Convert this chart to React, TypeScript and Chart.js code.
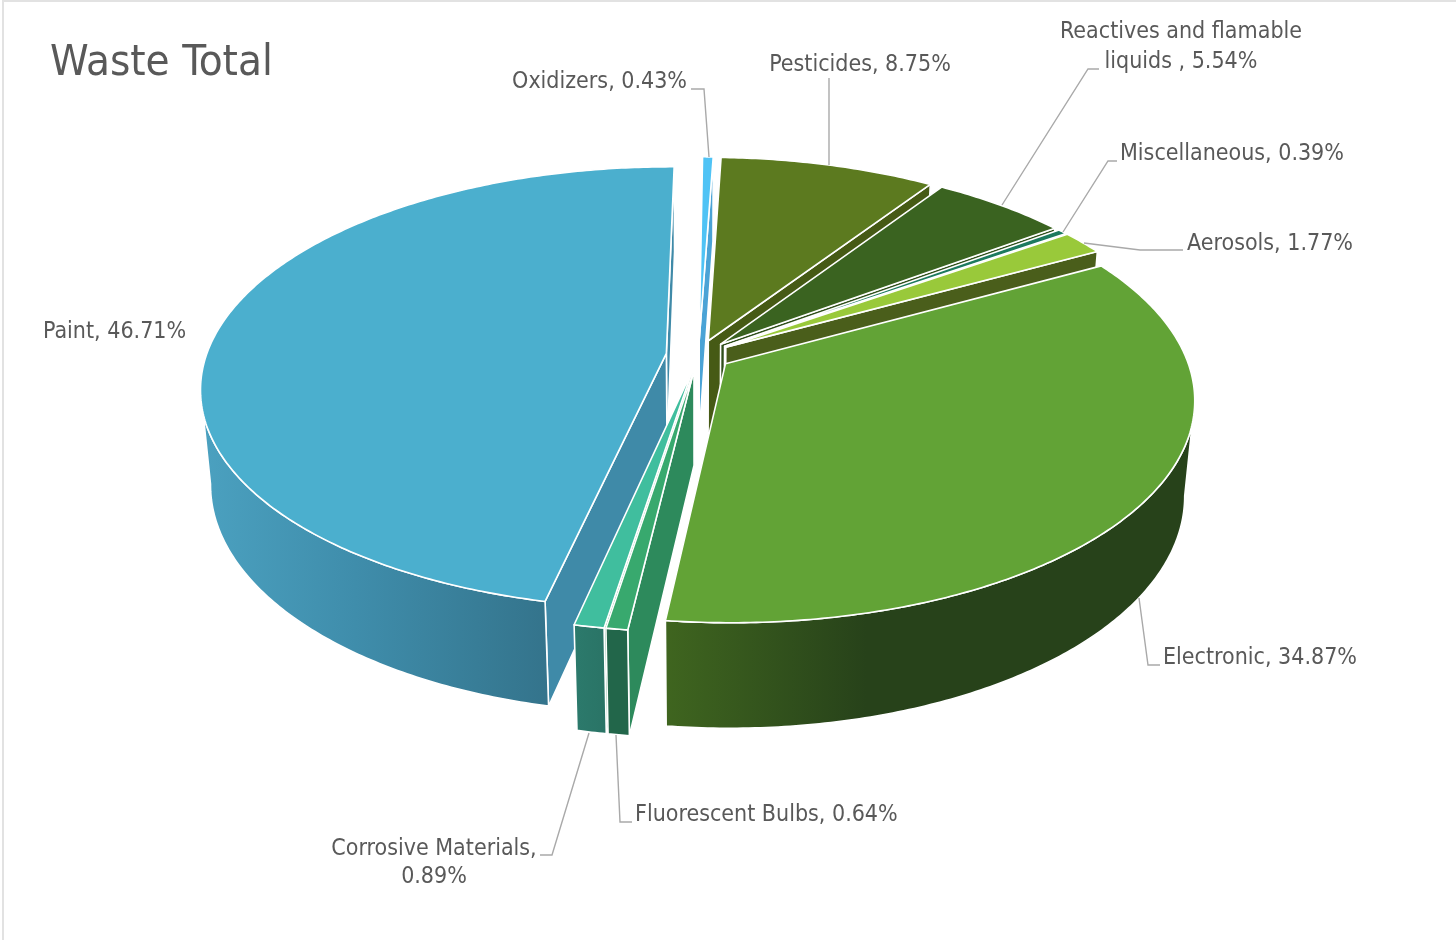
import React, { useEffect, useRef } from "react";
import { Chart, registerables } from "chart.js";

Chart.register(...registerables);

const categories = ["Oxidizers", "Pesticides", "Reactives and flamable liquids ", "Miscellaneous", "Aerosols", "Electronic", "Fluorescent Bulbs", "Corrosive Materials", "Paint"];
const shares = [0.43, 8.75, 5.54, 0.39, 1.77, 34.87, 0.64, 0.89, 46.71];
const topColors = ["#4fc3f5", "#5c7a1f", "#3a6320", "#1d7a5e", "#99c93a", "#62a336", "#38a96e", "#40be9e", "#4bafce"];
const wallLight = ["#4aa3d6", "#4a5c16", "#2f4f1a", "#1a5c4a", "#4a5e1b", "#3f651f", "#22664a", "#2c7a6c", "#4ba1c0"];
const wallDark = ["#4aa3d6", "#4a5c16", "#2f4f1a", "#1a5c4a", "#4a5e1b", "#27421a", "#22664a", "#2a7466", "#34748c"];
const cutColors = ["#4aa3d6", "#465a15", "#2f4f1a", "#1a5c4a", "#4a5e1b", "#2a4a18", "#2d8a5c", "#2d8a5c", "#3f8aa8"];

const TEXT = "#595959";
const FONT = '"DejaVu Sans Condensed", "DejaVu Sans"';
const labelLayout: { lines: string[]; x: number; y: number; gap?: number; align: CanvasTextAlign; leader?: number[][] }[] = [
  { lines: ["Oxidizers, 0.43%"], x: 687, y: 82.5, align: "right", leader: [[691, 89], [704, 89], [709, 157]] },
  { lines: ["Pesticides, 8.75%"], x: 860, y: 65.5, align: "center", leader: [[829, 78], [829, 165]] },
  { lines: ["Reactives and flamable", "liquids , 5.54%"], x: 1181, y: 32, gap: 30, align: "center", leader: [[1099, 69], [1088, 69], [1002, 205]] },
  { lines: ["Miscellaneous, 0.39%"], x: 1120, y: 154.5, align: "left", leader: [[1117, 161], [1108, 161], [1063, 232]] },
  { lines: ["Aerosols, 1.77%"], x: 1187, y: 244.5, align: "left", leader: [[1183, 250], [1140, 250], [1084, 243]] },
  { lines: ["Electronic, 34.87%"], x: 1163, y: 658, align: "left", leader: [[1160, 665], [1148, 665], [1139, 598]] },
  { lines: ["Fluorescent Bulbs, 0.64%"], x: 635, y: 815, align: "left", leader: [[632, 822], [620, 822], [616, 735]] },
  { lines: ["Corrosive Materials,", "0.89%"], x: 434, y: 849, gap: 28, align: "center", leader: [[540, 855], [552, 855], [589, 733]] },
  { lines: ["Paint, 46.71%"], x: 43, y: 332, align: "left" },
];

// Camera model of the tilted pie, relative to the pie radius
const SCALE_X = 460 / 270;
const SCALE_Y = 216 / 270;
const DEPTH = 96;
const PERSPECTIVE = 0.155;
const DEPTH_SHRINK = 0.02;

const pie3d = {
  id: "pie3d",
  beforeDatasetsDraw(chart: any) {
    const ctx: CanvasRenderingContext2D = chart.ctx;
    const arcs = chart.getDatasetMeta(0).data as any[];
    const order = arcs.map((_, i) => i).sort((a, b) => {
      const ma = (arcs[a].startAngle + arcs[a].endAngle) / 2;
      const mb = (arcs[b].startAngle + arcs[b].endAngle) / 2;
      return Math.sin(ma) - Math.sin(mb);
    });
    ctx.save();
    ctx.lineJoin = "round";
    ctx.strokeStyle = "#ffffff";
    ctx.lineWidth = 1.6;

    for (const i of order) {
      const el = arcs[i];
      const R = el.outerRadius;
      const mid = (el.startAngle + el.endAngle) / 2;
      const e = (el.options.offset || 0) / R;
      const ox = Math.cos(mid) * e;
      const oy = Math.sin(mid) * e;
      const P = (u: number, v: number, down: number) => {
        const w = 1 - PERSPECTIVE * v + DEPTH_SHRINK * down;
        return [el.x + (R * SCALE_X * u) / w, el.y + (R * SCALE_Y * v + DEPTH * down) / w];
      };
      const rim = (a: number, down: number) => P(ox + Math.cos(a), oy + Math.sin(a), down);
      const apex = (down: number) => P(ox, oy, down);
      const poly = (pts: number[][], fill: any) => {
        ctx.beginPath();
        pts.forEach((p, k) => (k ? ctx.lineTo(p[0], p[1]) : ctx.moveTo(p[0], p[1])));
        ctx.closePath();
        ctx.fillStyle = fill;
        ctx.fill();
        ctx.stroke();
      };
      const signed = (pts: number[][]) => {
        let s = 0;
        pts.forEach((p, k) => {
          const q = pts[(k + 1) % pts.length];
          s += p[0] * q[1] - q[0] * p[1];
        });
        return s;
      };

      // cut faces
      const endFace = [apex(0), rim(el.endAngle, 0), rim(el.endAngle, 1), apex(1)];
      if (signed(endFace) > 0) poly(endFace, cutColors[i]);
      const startFace = [apex(0), rim(el.startAngle, 0), rim(el.startAngle, 1), apex(1)];
      if (signed(startFace) < 0) poly(startFace, cutColors[i]);

      // outer wall: only the part turned towards the viewer
      const steps = Math.max(8, Math.ceil((el.endAngle - el.startAngle) * 90));
      const angles: number[] = [];
      for (let s = 0; s <= steps; s++) {
        const a = el.startAngle + ((el.endAngle - el.startAngle) * s) / steps;
        if (Math.sin(a) >= PERSPECTIVE) angles.push(a);
      }
      if (angles.length > 1) {
        const top = angles.map((a) => rim(a, 0));
        const bottom = angles.slice().reverse().map((a) => rim(a, 1));
        const xs = top.map((p) => p[0]);
        const x0 = Math.min(...xs);
        const x1 = Math.max(...xs);
        const g = ctx.createLinearGradient(x0, 0, x1, 0);
        if (i === 5) {
          g.addColorStop(0, wallLight[i]);
          g.addColorStop(0.38, wallDark[i]);
          g.addColorStop(1, wallDark[i]);
        } else if (i === 8) {
          g.addColorStop(0, wallLight[i]);
          g.addColorStop(0.45, "#3f8dab");
          g.addColorStop(1, wallDark[i]);
        } else {
          g.addColorStop(0, wallLight[i]);
          g.addColorStop(1, wallDark[i]);
        }
        poly(top.concat(bottom), g);
      }

      // top face
      const face = [apex(0)];
      for (let s = 0; s <= steps; s++) face.push(rim(el.startAngle + ((el.endAngle - el.startAngle) * s) / steps, 0));
      poly(face, el.options.backgroundColor);
    }
    ctx.restore();
    return false;
  },
  afterDraw(chart: any) {
    const ctx: CanvasRenderingContext2D = chart.ctx;
    ctx.save();
    ctx.strokeStyle = "#e2e2e2";
    ctx.lineWidth = 2;
    ctx.beginPath();
    ctx.moveTo(3, 940);
    ctx.lineTo(3, 1);
    ctx.lineTo(1456, 1);
    ctx.stroke();

    ctx.strokeStyle = "#a9a9a9";
    ctx.lineWidth = 1.4;
    ctx.fillStyle = TEXT;
    ctx.textBaseline = "middle";
    ctx.font = `23px ${FONT}`;
    for (const l of labelLayout) {
      if (l.leader) {
        ctx.beginPath();
        l.leader.forEach((p, k) => (k ? ctx.lineTo(p[0], p[1]) : ctx.moveTo(p[0], p[1])));
        ctx.stroke();
      }
      ctx.textAlign = l.align;
      l.lines.forEach((t, k) => ctx.fillText(t, l.x, l.y + k * (l.gap || 0)));
    }
    ctx.restore();
  },
};

export default function App() {
  const ref = useRef<HTMLCanvasElement>(null);
  useEffect(() => {
    document.body.style.margin = "0";
    const chart = new Chart(ref.current!, {
      type: "pie",
      data: {
        labels: categories,
        datasets: [{ data: shares, backgroundColor: topColors, offset: 19, radius: 270 } as any],
      },
      options: {
        animation: false,
        responsive: false,
        devicePixelRatio: 1,
        rotation: 0.5,
        layout: { padding: { left: 50, right: 109, top: 0, bottom: 320 } },
        plugins: {
          legend: { display: false },
          tooltip: { enabled: false },
          title: {
            display: true,
            text: "Waste Total",
            align: "start",
            color: TEXT,
            font: { family: FONT, size: 43.5, weight: "normal" },
            padding: { top: 38, bottom: 0 },
          },
        },
      } as any,
      plugins: [pie3d],
    });
    return () => chart.destroy();
  }, []);
  return <canvas ref={ref} width={1456} height={940} style={{ display: "block", width: 1456, height: 940 }} />;
}
